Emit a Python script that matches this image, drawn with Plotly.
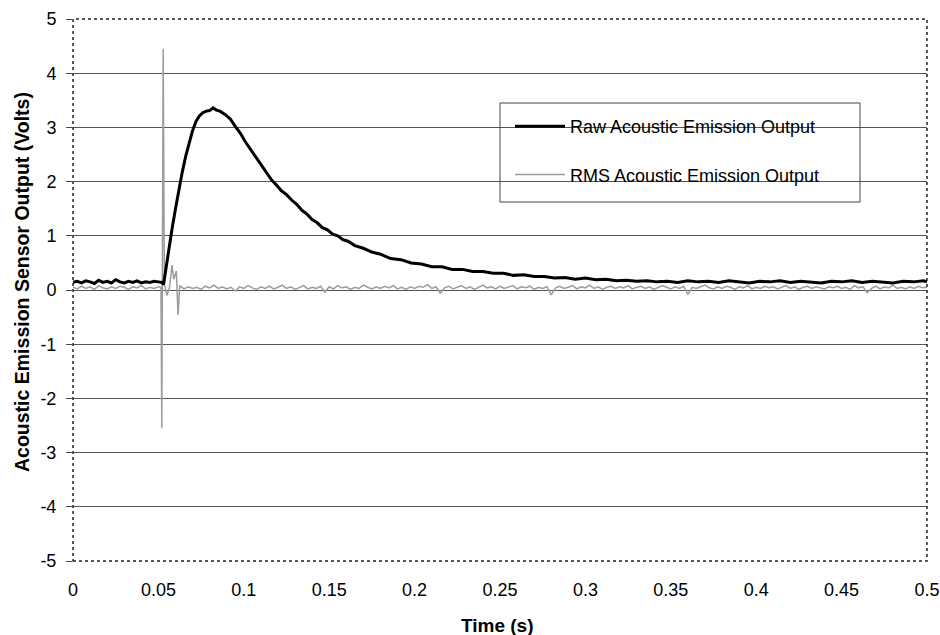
import plotly.graph_objects as go

# ---------------- data ----------------
raw_time = [
    0.0, 0.0025, 0.005, 0.0075, 0.01, 0.0125, 0.015, 0.0175, 0.02, 0.0225,
    0.025, 0.0275, 0.03, 0.0325, 0.035, 0.0375, 0.04, 0.0425, 0.045, 0.0475,
    0.05, 0.052, 0.053, 0.054, 0.056, 0.058, 0.060, 0.062, 0.064, 0.066,
    0.068, 0.070, 0.072, 0.074, 0.076, 0.078, 0.080, 0.082, 0.084, 0.086,
    0.089, 0.092, 0.095, 0.098, 0.101, 0.104, 0.107, 0.110, 0.113, 0.116,
    0.119, 0.122, 0.125, 0.128, 0.131, 0.134, 0.137, 0.140, 0.143, 0.146,
    0.149, 0.152, 0.155, 0.158, 0.161, 0.165, 0.170, 0.175, 0.180, 0.186,
    0.192, 0.198, 0.204, 0.210, 0.216, 0.222, 0.228, 0.234, 0.240, 0.246,
    0.252, 0.258, 0.264, 0.270, 0.276, 0.282, 0.288, 0.294, 0.300, 0.306,
    0.312, 0.318, 0.324, 0.330, 0.336, 0.342, 0.348, 0.354, 0.360, 0.366,
    0.372, 0.378, 0.384, 0.390, 0.396, 0.402, 0.408, 0.414, 0.420, 0.426,
    0.432, 0.438, 0.444, 0.450, 0.456, 0.462, 0.468, 0.474, 0.480, 0.486,
    0.492, 0.498, 0.500,
]
raw_volts = [
    0.14, 0.16, 0.13, 0.17, 0.15, 0.12, 0.18, 0.14, 0.16, 0.13,
    0.19, 0.15, 0.13, 0.16, 0.14, 0.17, 0.13, 0.15, 0.14, 0.16,
    0.15, 0.14, 0.10, 0.32, 0.74, 1.13, 1.50, 1.85, 2.18, 2.47,
    2.71, 2.94, 3.11, 3.21, 3.27, 3.30, 3.31, 3.36, 3.32, 3.30,
    3.24, 3.16, 3.02, 2.89, 2.73, 2.59, 2.44, 2.31, 2.16, 2.04,
    1.94, 1.83, 1.76, 1.66, 1.58, 1.47, 1.40, 1.30, 1.24, 1.15,
    1.11, 1.03, 1.00, 0.93, 0.90, 0.82, 0.77, 0.70, 0.66, 0.58,
    0.56, 0.50, 0.48, 0.43, 0.43, 0.38, 0.38, 0.34, 0.34, 0.31,
    0.31, 0.27, 0.28, 0.25, 0.25, 0.22, 0.23, 0.20, 0.22, 0.19,
    0.20, 0.17, 0.18, 0.16, 0.17, 0.15, 0.16, 0.14, 0.17, 0.15,
    0.16, 0.14, 0.17, 0.15, 0.13, 0.16, 0.15, 0.17, 0.14, 0.16,
    0.15, 0.13, 0.16, 0.15, 0.17, 0.14, 0.16, 0.15, 0.13, 0.16,
    0.15, 0.17, 0.15,
]

rms_volts_pre = [
    0.05, 0.02, 0.07, 0.03, 0.06, 0.01, 0.08, 0.04, 0.02, 0.06,
    0.03, 0.07, 0.05, 0.01, 0.06, 0.04, 0.08, 0.02, 0.05, 0.03, 0.06,
]
rms_time_spike = [0.0515, 0.052, 0.0528, 0.0535, 0.055, 0.0565, 0.058,
                  0.059, 0.0605, 0.0615, 0.0625]
rms_volts_spike = [0.05, -2.55, 4.45, 0.10, -0.10, 0.05, 0.46, 0.20, 0.35, -0.46, 0.08]
rms_volts_post = [
    0.02, 0.06, 0.03, 0.05, 0.01, 0.07, 0.04, 0.09, 0.03, 0.06,
    0.02, 0.05, -0.02, 0.06, 0.03, 0.08, 0.04, 0.01, 0.06, 0.03,
    0.07, 0.02, 0.05, 0.09, 0.03, 0.06, 0.01, 0.04, 0.08, 0.02,
    0.05, 0.03, 0.07, -0.04, 0.06, 0.02, 0.08, 0.04, 0.06, 0.01,
    0.05, 0.03, 0.09, 0.05, 0.02, 0.06, 0.03, 0.07, 0.04, 0.08,
    0.02, 0.05, 0.01, 0.06, 0.03, 0.07, 0.05, 0.10, 0.03, 0.06,
    -0.06, 0.04, 0.07, 0.02, 0.05, 0.08, 0.03, 0.06, 0.01, 0.05,
    0.09, 0.04, 0.06, 0.02, 0.07, 0.03, 0.05, 0.08, 0.02, 0.06,
    0.04, 0.07, 0.01, 0.05, 0.03, 0.06, -0.09, 0.04, 0.07, 0.03,
    0.05, 0.08, 0.02, 0.06, 0.04, 0.09, 0.03, 0.06, 0.01, 0.05,
    0.07, 0.03, 0.06, 0.04, 0.08, 0.02, 0.05, 0.07, 0.03, 0.06,
    0.01, 0.04, 0.08, 0.05, 0.02, 0.06, 0.03, 0.07, -0.08, 0.05,
    0.03, 0.06, 0.09, 0.04, 0.02, 0.06, 0.03, 0.07, 0.05, 0.01,
    0.06, 0.04, 0.08, 0.02, 0.05, 0.03, 0.07, 0.04, 0.06, 0.02,
    0.05, 0.08, 0.03, 0.06, 0.01, 0.05, 0.07, 0.03, 0.06, 0.04,
    0.02, 0.06, 0.04, 0.07, 0.03, 0.05, 0.01, 0.08, 0.04, 0.06,
    -0.05, 0.03, 0.07, 0.02, 0.06, 0.04, 0.09, 0.03, 0.05, 0.02,
    0.06, 0.03, 0.07, 0.04, 0.05,
]

# regular sampling grids for the RMS trace (before / after the burst)
rms_time_pre = [i * 0.05 / (len(rms_volts_pre) - 1) for i in range(len(rms_volts_pre))]
rms_time_post = [0.065 + i * (0.5 - 0.065) / (len(rms_volts_post) - 1)
                 for i in range(len(rms_volts_post))]
rms_time = rms_time_pre + rms_time_spike + rms_time_post
rms_volts = rms_volts_pre + rms_volts_spike + rms_volts_post

x_tick_vals = [0, 0.05, 0.1, 0.15, 0.2, 0.25, 0.3, 0.35, 0.4, 0.45, 0.5]
x_tick_text = ["0", "0.05", "0.1", "0.15", "0.2", "0.25", "0.3", "0.35", "0.4", "0.45", "0.5"]
y_tick_vals = [5, 4, 3, 2, 1, 0, -1, -2, -3, -4, -5]
y_tick_text = ["5", "4", "3", "2", "1", "0", "-1", "-2", "-3", "-4", "-5"]

series_names = ["Raw Acoustic Emission Output", "RMS Acoustic Emission Output"]
x_title = "Time (s)"
y_title = "Acoustic Emission Sensor Output (Volts)"

# ---------------- figure ----------------
FONT = "Liberation Sans, Arial, sans-serif"

fig = go.Figure()
fig.add_trace(go.Scatter(
    x=rms_time, y=rms_volts, mode="lines", name=series_names[1],
    line=dict(color="#9c9c9c", width=1.5), legendgroup="b", legendrank=2,
))
fig.add_trace(go.Scatter(
    x=raw_time, y=raw_volts, mode="lines", name=series_names[0],
    line=dict(color="#000000", width=3), legendgroup="a", legendrank=1,
))

L, R, T, B = 73, 13, 19, 74
W, H = 940, 635
pw, ph = W - L - R, H - T - B

def px_x(px):
    return (px - L) / pw

def px_y(py):
    return (H - B - py) / ph

fig.update_layout(
    width=W, height=H,
    margin=dict(l=L, r=R, t=T, b=B, autoexpand=False),
    paper_bgcolor="white", plot_bgcolor="white",
    font=dict(family=FONT, size=18, color="black"),
    showlegend=True,
    legend=dict(
        x=px_x(510), y=px_y(108), xanchor="left", yanchor="top",
        bgcolor="rgba(0,0,0,0)", borderwidth=0,
        font=dict(family=FONT, size=18, color="black"),
        tracegroupgap=22, itemwidth=50,
    ),
    xaxis=dict(
        range=[0, 0.5], tickvals=x_tick_vals, ticktext=x_tick_text,
        showgrid=False, zeroline=False, showline=False, ticks="",
        tickfont=dict(family=FONT, size=18, color="black"),
        ticklabelstandoff=16, automargin=False,
    ),
    yaxis=dict(
        range=[-5, 5], tickvals=y_tick_vals, ticktext=y_tick_text,
        showgrid=True, gridcolor="#555555", gridwidth=1,
        zeroline=True, zerolinecolor="#555555", zerolinewidth=1,
        showline=False, ticks="outside", ticklen=6, tickcolor="#444444",
        tickfont=dict(family=FONT, size=18, color="black"),
        ticklabelstandoff=6, automargin=False,
    ),
    shapes=[
        dict(type="rect", xref="paper", yref="paper", x0=0, x1=1, y0=0, y1=1,
             line=dict(color="#222222", width=1.5, dash="dot"), layer="above"),
        dict(type="rect", xref="paper", yref="paper",
             x0=px_x(500), x1=px_x(860), y0=px_y(202), y1=px_y(103),
             line=dict(color="#444444", width=1), fillcolor="rgba(0,0,0,0)",
             layer="above"),
    ],
    annotations=[
        dict(text="<b>%s</b>" % x_title, xref="paper", yref="paper",
             x=px_x(497), y=px_y(625), xanchor="center", yanchor="middle",
             showarrow=False, font=dict(family=FONT, size=19, color="black")),
        dict(text="<b>%s</b>" % y_title, xref="paper", yref="paper",
             x=px_x(22), y=px_y(282), xanchor="center", yanchor="middle",
             textangle=-90, showarrow=False,
             font=dict(family=FONT, size=19.5, color="black")),
    ],
)

fig.write_html("out.html")
